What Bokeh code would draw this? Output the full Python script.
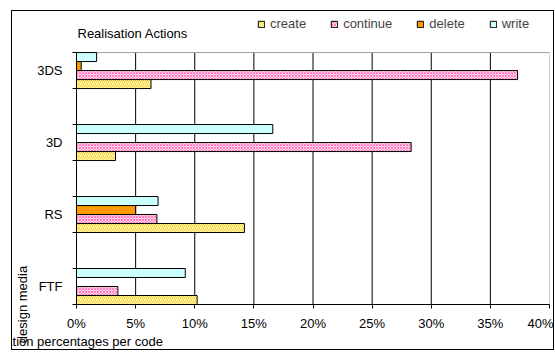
from bokeh.plotting import figure
from bokeh.models import (Range1d, FixedTicker, PrintfTickFormatter, Legend,
                          LegendItem, ColumnDataSource, Axis, Label)
from bokeh.transform import dodge
from bokeh.embed import file_html
from bokeh.resources import INLINE

# ---- data (duration percentages per code) ----
media = ["FTF", "RS", "3D", "3DS"]
create = [10.2, 14.2, 3.3, 6.3]
continue_ = [3.5, 6.8, 28.3, 37.3]
delete = [0.0, 5.0, 0.0, 0.4]
write = [9.2, 6.9, 16.6, 1.7]
x_ticks = [0, 5, 10, 15, 20, 25, 30, 35, 40]

# each medium occupies one band, separated by an empty band
n_bands = 2 * len(media) - 1
centers = [2 * i + 0.5 for i in range(len(media))]
src = ColumnDataSource(dict(y=centers, create=create, cont=continue_,
                            delete=delete, write=write))

FONT = "Liberation Sans"
FS = "13px"

# frame reaches up to the legend row; the bar area is 0..n_bands
band_px = 258 / n_bands
y_top = n_bands + 40 / band_px

p = figure(width=543, height=340, x_range=Range1d(x_ticks[0], x_ticks[-1]),
           y_range=Range1d(0, y_top),
           output_backend="svg", toolbar_location=None, title=None,
           min_border_left=58, min_border_right=6, min_border_top=2,
           min_border_bottom=40)
p.margin = (10, 0, 0, 11)
p.styles = {"border": "1px solid black"}
p.background_fill_color = "white"
p.border_fill_color = "white"
p.outline_line_color = None

# plot-area box and vertical grid lines
gx = x_ticks[1:-1]
p.segment(x0=gx, y0=[0] * len(gx), x1=gx, y1=[n_bands] * len(gx),
          line_color="black", line_width=1)
p.quad(left=[x_ticks[0]], right=[x_ticks[-1]], bottom=[0], top=[n_bands],
       fill_alpha=0, line_color="#A0A0A0", line_width=1)

bh = 0.25
r_create = p.hbar(y=dodge("y", -0.375, range=p.y_range), right="create", left=0, height=bh,
                  source=src, fill_color="#FFFFE6", hatch_pattern="/", hatch_color="#FFCC00",
                  hatch_scale=4, hatch_weight=1, line_color="black", line_width=1)
r_cont = p.hbar(y=dodge("y", -0.125, range=p.y_range), right="cont", left=0, height=bh,
                source=src, fill_color="#FFD6EB", hatch_pattern="x", hatch_color="#FF7FBF",
                hatch_scale=3, hatch_weight=1, line_color="black", line_width=1)
r_del = p.hbar(y=dodge("y", 0.125, range=p.y_range), right="delete", left=0, height=bh,
               source=src, fill_color="#FF9900", line_color="black", line_width=1)
r_write = p.hbar(y=dodge("y", 0.375, range=p.y_range), right="write", left=0, height=bh,
                 source=src, fill_color="#CCFFFF", line_color="black", line_width=1)

# x axis
p.xaxis.ticker = FixedTicker(ticks=x_ticks)
p.xaxis.formatter = PrintfTickFormatter(format="%d%%")
p.xaxis.major_tick_out = 4
p.xaxis.major_tick_in = 0
p.xaxis.minor_tick_out = 0
p.xaxis.minor_tick_in = 0
p.xaxis.axis_line_color = "black"
p.xaxis.major_label_standoff = 7
p.xaxis.major_label_text_font = FONT
p.xaxis.major_label_text_font_size = FS
p.xaxis.major_label_text_color = "black"
p.xaxis.axis_label = "duration percentages  per code"
p.xaxis.axis_label_standoff = 0
p.xaxis.axis_label_text_font = FONT
p.xaxis.axis_label_text_font_size = FS
p.xaxis.axis_label_text_font_style = "normal"
p.xaxis.axis_label_text_color = "black"

p.xgrid.visible = False
p.ygrid.visible = False

# y axis
p.yaxis.bounds = (0, n_bands)
p.yaxis.ticker = FixedTicker(ticks=centers, minor_ticks=list(range(n_bands + 1)))
p.yaxis.major_label_overrides = {c: m for c, m in zip(centers, media)}
p.yaxis.major_tick_out = 0
p.yaxis.major_tick_in = 0
p.yaxis.minor_tick_out = 4
p.yaxis.minor_tick_in = 0
p.yaxis.axis_line_color = "black"
p.yaxis.major_label_standoff = 10
p.yaxis.major_label_text_font = FONT
p.yaxis.major_label_text_font_size = FS
p.yaxis.major_label_text_color = "black"
p.yaxis.axis_label = "design media"
p.yaxis.axis_label_standoff = 4
p.yaxis.axis_label_text_font = FONT
p.yaxis.axis_label_text_font_size = FS
p.yaxis.axis_label_text_font_style = "normal"
p.yaxis.axis_label_text_color = "black"

if "axis_label_align" in Axis.properties():
    p.xaxis.axis_label_align = "start"
    p.yaxis.axis_label_align = "start"

# heading of the legend row
p.add_layout(Label(x=x_ticks[0], y=n_bands + 20 / band_px, x_offset=1,
                   text="Realisation Actions", text_font=FONT, text_font_size=FS,
                   text_baseline="middle", text_align="left", text_color="black"))

legend = Legend(items=[LegendItem(label="create", renderers=[r_create]),
                       LegendItem(label="continue", renderers=[r_cont]),
                       LegendItem(label="delete", renderers=[r_del]),
                       LegendItem(label="write", renderers=[r_write])],
                orientation="horizontal", location=(181, 273),
                glyph_width=8, glyph_height=8, label_standoff=5, spacing=24,
                padding=0, margin=0, border_line_alpha=0, background_fill_alpha=0,
                label_text_font=FONT, label_text_font_size=FS, label_height=14)
p.add_layout(legend)

open("out.html", "w").write(file_html(p, INLINE))
